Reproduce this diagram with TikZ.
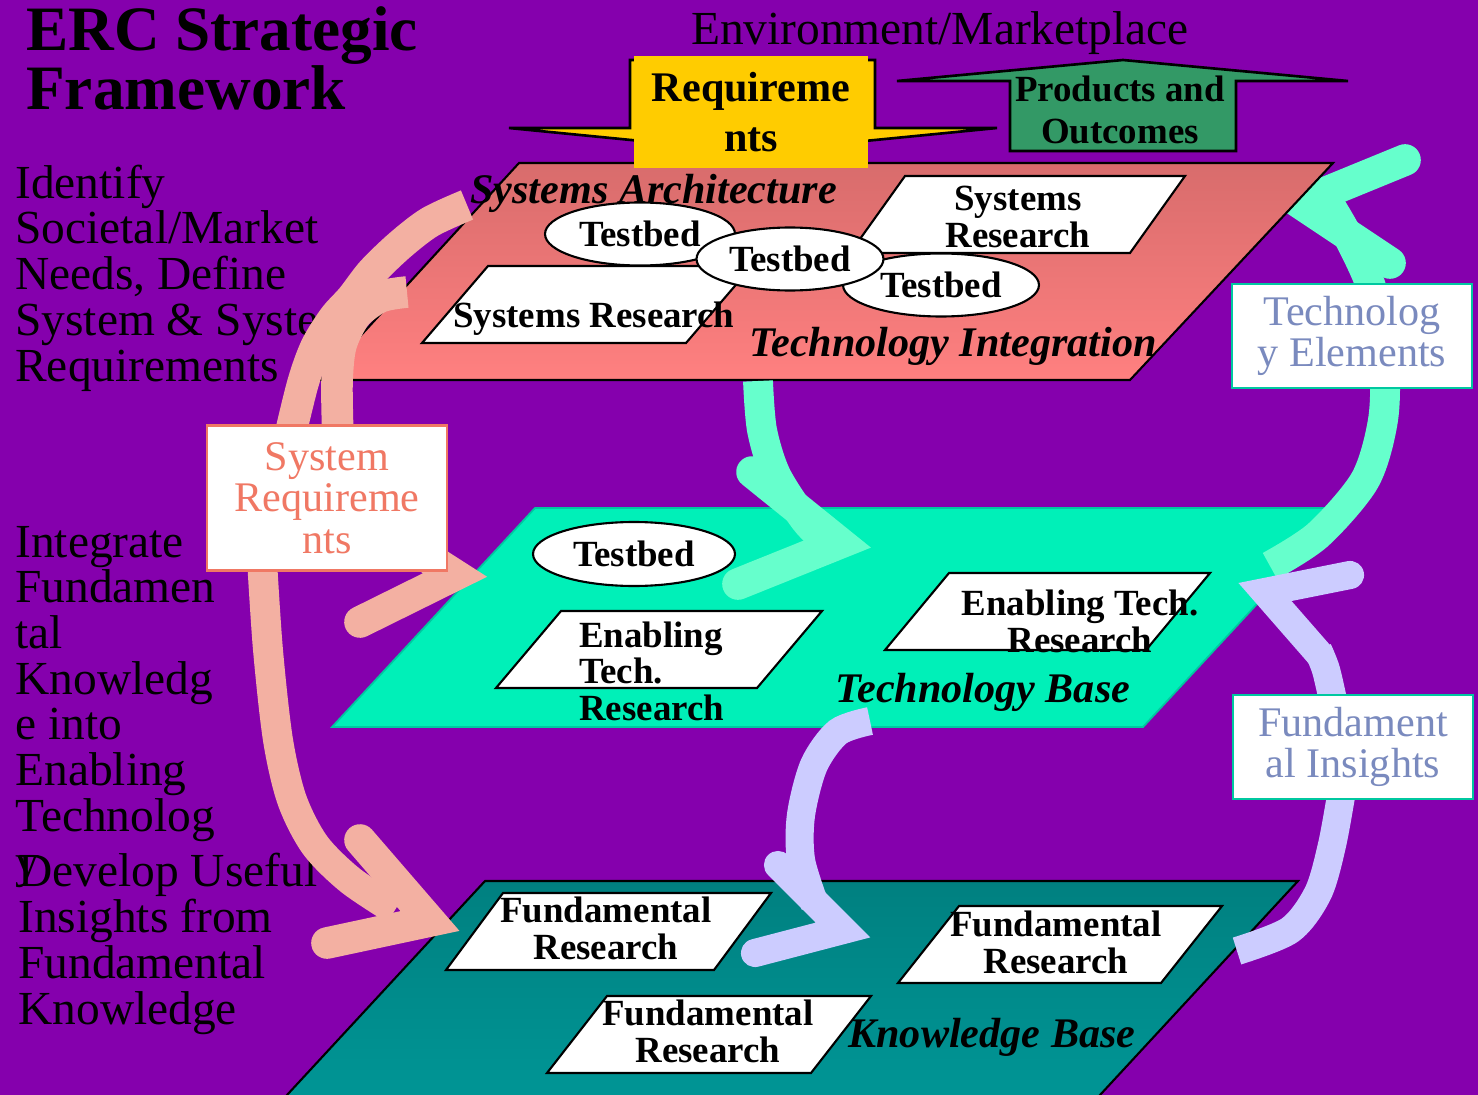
\documentclass[tikz,border=0pt]{standalone}
\usepackage{fontspec}
\setmainfont{Liberation Serif}
\usetikzlibrary{shapes.geometric}
\definecolor{bgpurple}{RGB}{133,0,173}
\definecolor{archtop}{RGB}{216,108,108}
\definecolor{archbot}{RGB}{255,128,128}
\definecolor{techbase}{RGB}{0,240,184}
\definecolor{techedge}{RGB}{0,200,160}
\definecolor{knowtop}{RGB}{0,128,128}
\definecolor{knowbot}{RGB}{0,153,153}
\definecolor{pinkarrow}{RGB}{243,176,162}
\definecolor{mintarrow}{RGB}{102,255,204}
\definecolor{lavarrow}{RGB}{204,204,255}
\definecolor{reqyellow}{RGB}{255,204,0}
\definecolor{prodgreen}{RGB}{51,153,102}
\definecolor{salmontext}{RGB}{240,120,100}
\definecolor{slatetext}{RGB}{122,138,190}
\definecolor{boxteal}{RGB}{0,200,160}
\tikzstyle{slab} = [draw=black, fill=white, line width=1.2pt]
\tikzstyle{testbed} = [ellipse, draw=black, fill=white, line width=1.2pt, inner sep=0, minimum width=3.8cm, minimum height=1.26cm, font=\fontsize{21}{20}\selectfont\bfseries]
\tikzstyle{restext} = [inner sep=0, align=center, anchor=base, font=\fontsize{21}{20.5}\selectfont\bfseries]
\tikzstyle{layer} = [inner sep=0, anchor=base west, font=\fontsize{24}{24}\selectfont\bfseries\itshape]
\tikzstyle{sidetext} = [inner sep=0, anchor=base west, align=left, font=\fontsize{27}{26}\selectfont]
\tikzstyle{sidebox} = [draw, fill=white, line width=1.5pt, inner sep=0, minimum width=4.8cm, minimum height=2.08cm, align=center, font=\fontsize{24}{23.5}\selectfont]
\tikzstyle{band} = [line width=17pt]
\tikzstyle{chevron} = [line width=18pt, line cap=round, line join=miter]
\newcommand{\resslab}[4]{\draw[slab] (#1,#2) -- ++(#3,0) -- ++(-#4,77) -- ++(-#3,0) -- cycle;}

\begin{document}
\begin{tikzpicture}[x=0.02cm, y=-0.02cm]
\useasboundingbox (0,0) rectangle (1478,1095);
\clip (0,0) rectangle (1478,1095);
\fill[bgpurple] (0,0) rectangle (1478,1095);

\node[inner sep=0, anchor=base west, align=left, font=\fontsize{36}{34}\selectfont\bfseries] (title) at (26,110) {ERC Strategic\\Framework};
\node[inner sep=0, anchor=base, font=\fontsize{27}{27}\selectfont] (env) at (940,45) {Environment/Marketplace};
\node[sidetext] (identify) at (15,381) {Identify\\Societal/Market\\Needs, Define\\System \& System\\Requirements};
\node[sidetext] (integrate) at (15,877) {Integrate\\Fundamen\\tal\\Knowledg\\e into\\Enabling\\Technolog\\y};
\node[sidetext] (develop) at (18,1024) {Develop Useful\\Insights from\\Fundamental\\Knowledge};

% knowledge base
\path[draw=black, line width=1.2pt, top color=knowtop, bottom color=knowbot] (485,881) -- (1298,881) -- (1063,1135) -- (250,1135) -- cycle;
\resslab{503}{893}{268}{57}
\resslab{959}{906}{263}{61}
\resslab{607}{996}{264}{60}
\node[restext] (fr1) at (606,959) {Fundamental\\Research};
\node[restext] (fr2) at (1056,973) {Fundamental\\Research};
\node[restext] (fr3) at (708,1062) {Fundamental\\Research};
\node[layer] (knowbase) at (848,1047) {Knowledge Base};

% technology base
\draw[techedge, fill=techbase, line width=1pt] (332,727) -- (535,508) -- (1346,508) -- (1143,727) -- cycle;
\resslab{561}{611}{261}{65}
\resslab{949}{573}{261}{64}
\node[testbed, minimum width=4.04cm, minimum height=1.28cm] (tbmid) at (634,554) {Testbed};
\node[restext, align=left, anchor=base west] (etr1) at (579,720) {Enabling\\Tech.\\Research};
\node[restext] (etr2) at (1080,652) {Enabling Tech.\\Research};
\node[layer] (techbase) at (835,702) {Technology Base};

\draw[band, mintarrow] plot[smooth] coordinates {(1270,566) (1318,535) (1365,480) (1383,420) (1384,360) (1372,290) (1350,240) (1330,205)};
\draw[chevron, mintarrow] (1405,160) -- (1300,203) -- (1390,263);

% systems architecture
\path[draw=black, line width=1.2pt, top color=archtop, bottom color=archbot] (320,380) -- (519,163) -- (1333,163) -- (1130,380) -- cycle;
\resslab{905}{176}{280}{55}
\resslab{488}{266}{264}{66}
\node[testbed] (tb1) at (640,234) {Testbed};
\node[testbed, minimum width=3.92cm] (tb3) at (941,285) {Testbed};
\node[testbed, minimum width=3.74cm] (tb2) at (790,259) {Testbed};
\node[restext] (sr1) at (1018,247) {Systems\\Research};
\node[restext, anchor=base west] (sr2) at (453,327) {Systems Research};
\node[layer] (techint) at (749,356) {Technology Integration};

% environment arrows
\draw[black, fill=reqyellow, line width=1.5pt] (630,60) -- (875,60) -- (875,128) -- (997,128) -- (753,152) -- (509,128) -- (630,128) -- cycle;
\node[fill=reqyellow, inner sep=0, minimum width=4.7cm, minimum height=2.24cm, align=center, font=\fontsize{24}{28}\selectfont\bfseries] (req) at (751,112) {Requireme\\nts};
\draw[black, fill=prodgreen, line width=1.5pt] (1010,151) -- (1010,81) -- (897,81) -- (1123,60) -- (1348,81) -- (1236,81) -- (1236,151) -- cycle;
\node[inner sep=0, align=center, font=\fontsize{21}{24}\selectfont\bfseries] (prod) at (1120,110) {Products and\\Outcomes};

% flow arrows
\draw[band, pinkarrow, line width=18pt] plot[smooth] coordinates {(289,440) (303,383) (316,347) (334,318) (352,298) (372,272) (400,245) (430,222) (467,205)};
\draw[band, pinkarrow, line width=18pt] plot[smooth] coordinates {(338,440) (337,383) (341,345) (356,315) (380,297) (407,292)};
\draw[band, pinkarrow] plot[smooth] coordinates {(262,560) (268,650) (278,740) (292,800) (315,845) (350,880) (395,910)};
\draw[chevron, pinkarrow] (360,840) -- (430,921) -- (327,943);
\draw[chevron, pinkarrow] (405,543) -- (455,575) -- (360,622);
\draw[band, mintarrow] plot[smooth] coordinates {(758,381) (762,430) (776,475) (805,520) (825,540)};
\draw[chevron, mintarrow] (752,472) -- (840,543) -- (738,584);
\draw[band, lavarrow, line width=16pt] plot[smooth] coordinates {(1237,951) (1290,930) (1318,893) (1332,845) (1342,790)};
\draw[band, lavarrow, line width=16pt] plot[smooth] coordinates {(1334,705) (1326,670) (1318,650)};
\draw[chevron, lavarrow, line width=16pt] (1350,575) -- (1265,592) -- (1320,655);
\draw[band, lavarrow, line width=16pt] plot[smooth] coordinates {(870,721) (838,732) (814,765) (801,815) (801,860) (815,905)};
\draw[chevron, lavarrow, line width=16pt] (778,865) -- (843,930) -- (755,953);

\node[layer] (sysarch) at (470,203) {Systems Architecture};

\node[sidebox, draw=salmontext, text=salmontext, minimum height=2.9cm] (sysreq) at (327,498) {System\\Requireme\\nts};
\node[sidebox, draw=boxteal, text=slatetext] (techel) at (1352,336) {Technolog\\y Elements};
\node[sidebox, draw=boxteal, text=slatetext] (fundins) at (1353,747) {Fundament\\al Insights};
\end{tikzpicture}
\end{document}
